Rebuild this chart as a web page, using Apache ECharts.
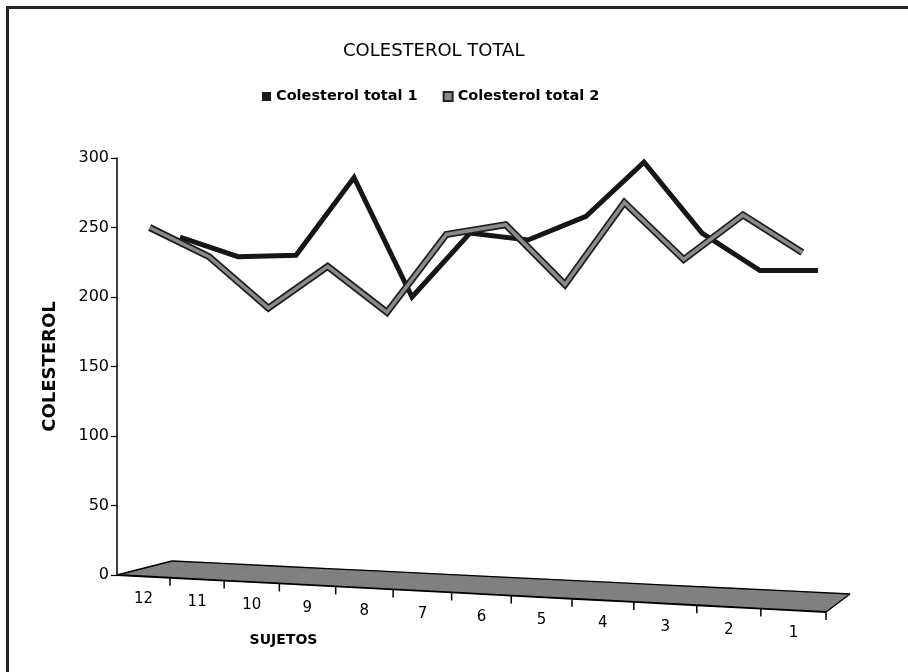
<!DOCTYPE html>
<html>
<head>
<meta charset="utf-8">
<script src="https://cdn.jsdelivr.net/npm/echarts@6/dist/echarts.min.js"></script>
<style>
html,body{margin:0;padding:0;background:#fff;}
#chart{width:908px;height:672px;}
</style>
</head>
<body>
<div id="chart"></div>
<script>
// ---- data ----
const categories = ['12','11','10','9','8','7','6','5','4','3','2','1'];
const colesterol1 = [243, 229, 230, 286, 200, 246, 241, 258, 297, 246, 219, 219];
const colesterol2 = [250, 229, 192, 222, 189, 245, 252, 209, 268, 227, 259, 232];
const yTicks = [0, 50, 100, 150, 200, 250, 300];

// ---- perspective helpers (style only) ----
const FONT = '"DejaVu Sans", Verdana, sans-serif';
const gridA = {left: 117, right: 82, top: 158, bottom: 97};
const widthA = 908 - gridA.left - gridA.right;
const warp = t => 0.888 * t + 0.112 * t * t;

const rich = {};
categories.forEach((c, i) => {
  const tc = (i + 0.5) / categories.length;
  const shift = widthA * (tc - warp(tc));
  const dy = 37 * warp(tc);
  rich['s' + i] = {
    fontFamily: FONT, fontSize: 15, color: '#000',
    padding: [Math.round(dy), Math.round(2 * shift), 0, 0]
  };
});

const chart = echarts.init(document.getElementById('chart'));

function renderFloor(params, api) {
  const cs = params.coordSys;
  const i = api.value(0);
  const c = api.coord([i, 0]);
  const w = api.size([1, 0])[0];
  const baseY = cs.y + cs.height;
  const B = t => { const u = warp(t); return [cs.x + cs.width * u, baseY + 37 * u]; };
  const T = t => { const b = B(t); const u = warp(t); return [b[0] + 55 - 31 * u, b[1] - 14 - 4 * u]; };
  const t0 = (c[0] - w / 2 - cs.x) / cs.width;
  const t1 = (c[0] + w / 2 - cs.x) / cs.width;
  const b0 = B(t0), b1 = B(t1), p0 = T(t0), p1 = T(t1);
  const children = [
    {type: 'polygon', shape: {points: [b0, b1, p1, p0]},
     style: {fill: '#808080', stroke: '#808080', lineWidth: 0.6}},
    {type: 'line', z2: 10, shape: {x1: b0[0], y1: b0[1], x2: b1[0], y2: b1[1]},
     style: {stroke: '#000', lineWidth: 1.8}},
    {type: 'line', z2: 10, shape: {x1: p0[0], y1: p0[1], x2: p1[0], y2: p1[1]},
     style: {stroke: '#000', lineWidth: 1.3}},
    {type: 'line', z2: 10, shape: {x1: b1[0], y1: b1[1], x2: b1[0], y2: b1[1] + 8},
     style: {stroke: '#000', lineWidth: 1.5}}
  ];
  if (i === 0) {
    children.push({type: 'line', z2: 10, shape: {x1: b0[0], y1: b0[1], x2: p0[0], y2: p0[1]},
      style: {stroke: '#000', lineWidth: 1.3}});
  }
  if (i === categories.length - 1) {
    children.push({type: 'line', z2: 10, shape: {x1: b1[0], y1: b1[1], x2: p1[0], y2: p1[1]},
      style: {stroke: '#000', lineWidth: 1.3}});
  }
  return {type: 'group', children: children};
}

const yBase = {type: 'value', min: yTicks[0], max: yTicks[yTicks.length - 1], interval: 50};

const option = {
  backgroundColor: '#fff',
  animation: false,
  title: {
    text: 'COLESTEROL TOTAL',
    left: 338, top: 37,
    textStyle: {fontFamily: FONT, fontSize: 18, fontWeight: 'normal', color: '#000'}
  },
  legend: {
    left: 262, top: 89, padding: 0,
    itemWidth: 9, itemHeight: 9, itemGap: 25, itemTextGap: 7,
    icon: 'rect',
    data: ['Colesterol total 1', 'Colesterol total 2'],
    textStyle: {fontFamily: FONT, fontSize: 14.5, fontWeight: 'bold', color: '#000'}
  },
  graphic: [{
    type: 'rect', left: 5, top: 5, z: 100,
    shape: {x: 0, y: 0, width: 1000, height: 1000},
    style: {fill: 'none', stroke: '#222', lineWidth: 3}
  }],
  grid: [
    gridA,
    {left: 120, right: 76, top: 158, bottom: 97},
    {left: 151, right: 61, top: 158, bottom: 97}
  ],
  xAxis: [
    {type: 'category', gridIndex: 0, data: categories, boundaryGap: true,
     axisLine: {show: false}, axisTick: {show: false}, splitLine: {show: false},
     axisLabel: {margin: 16, formatter: (v, idx) => '{s' + idx + '|' + v + '}', rich: rich},
     name: 'SUJETOS', nameLocation: 'middle', nameGap: 58, nameMoveOverlap: false,
     nameTextStyle: {fontFamily: FONT, fontSize: 14, fontWeight: 'bold', color: '#000', padding: [0, 376, 0, 0]}},
    {type: 'category', gridIndex: 1, data: categories, boundaryGap: true, show: false},
    {type: 'category', gridIndex: 2, data: categories, boundaryGap: true, show: false}
  ],
  yAxis: [
    Object.assign({}, yBase, {gridIndex: 0,
      axisLine: {show: true, lineStyle: {color: '#000', width: 1.5}},
      axisTick: {show: true, length: 6, lineStyle: {color: '#000', width: 1.2}},
      axisLabel: {margin: 8, fontFamily: FONT, fontSize: 16, color: '#000'},
      splitLine: {show: false},
      name: 'COLESTEROL', nameLocation: 'middle', nameGap: 58, nameRotate: 90, nameMoveOverlap: false,
      nameTextStyle: {fontFamily: FONT, fontSize: 18, fontWeight: 'bold', color: '#000'}}),
    Object.assign({}, yBase, {gridIndex: 1, show: false, splitLine: {show: false}}),
    Object.assign({}, yBase, {gridIndex: 2, show: false, splitLine: {show: false}})
  ],
  series: [
    {type: 'custom', name: 'floor', xAxisIndex: 0, yAxisIndex: 0, z: 1,
     data: categories.map((c, i) => [i]), encode: {x: 0}, renderItem: renderFloor, silent: true},
    {type: 'line', name: 'Colesterol total 1', xAxisIndex: 2, yAxisIndex: 2, z: 3,
     data: colesterol1, symbol: 'none', smooth: false,
     itemStyle: {color: '#1a1a1a', borderColor: '#000'},
     lineStyle: {color: '#161616', width: 5, join: 'miter'}},
    {type: 'line', name: 'outline2', xAxisIndex: 1, yAxisIndex: 1, z: 4,
     data: colesterol2, symbol: 'none', smooth: false,
     lineStyle: {color: '#1e1e1e', width: 7, join: 'miter'}},
    {type: 'line', name: 'Colesterol total 2', xAxisIndex: 1, yAxisIndex: 1, z: 5,
     data: colesterol2, symbol: 'none', smooth: false,
     itemStyle: {color: '#8a8a8a', borderColor: '#222', borderWidth: 1},
     lineStyle: {color: '#8a8a8a', width: 3.5, join: 'miter'}}
  ]
};
chart.setOption(option);
</script>
</body>
</html>
